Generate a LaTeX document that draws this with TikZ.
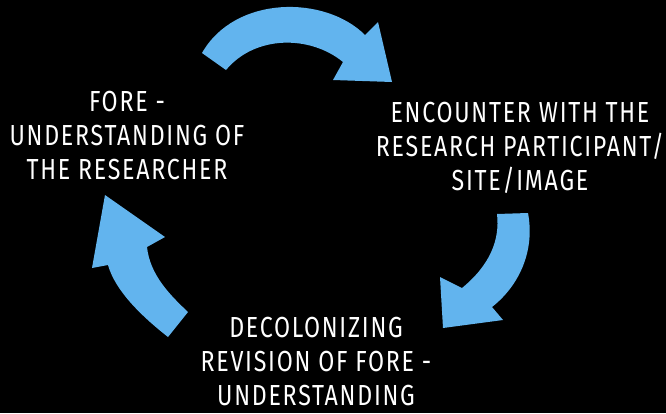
\documentclass[tikz,border=0pt]{standalone}
\usepackage{fontspec}
\setmainfont[FakeStretch=0.80,LetterSpace=6]{Fira Sans}
\definecolor{arrowblue}{RGB}{98,180,238}
\tikzset{
  lbl/.style={text=white, align=center, inner sep=0pt,
    font=\fontsize{29}{34}\selectfont},
  bigarrow/.style={fill=arrowblue, draw=none}
}
\begin{document}
\begin{tikzpicture}[x=1pt,y=-1pt]
\fill[black] (0,0) rectangle (666,413);
\useasboundingbox (0,0) rectangle (666,413);
% top arrow
\path[bigarrow] (202,53) .. controls (235,-5) and (325,-5) .. (365,35)
  -- (378,22) -- (392,82) -- (333,80) -- (343,62)
  .. controls (310,35) and (255,35) .. (226,70) -- cycle;
% right arrow
\path[bigarrow] (497,214) -- (528,213)
  .. controls (535,250) and (520,285) .. (492,307)
  -- (503,320) -- (443,328) -- (440,277) -- (462,288)
  .. controls (490,265) and (500,240) .. (497,214) -- cycle;
% left arrow
\path[bigarrow] (105,195) -- (165,237) -- (147,247)
  .. controls (150,275) and (170,295) .. (188,312)
  -- (168,337)
  .. controls (140,315) and (115,290) .. (108,265)
  -- (92,268) -- cycle;
% labels
\node[lbl] (fore) at (127,136) {FORE -\\UNDERSTANDING OF\\THE RESEARCHER};
\node[lbl] (enc) at (520,148) {ENCOUNTER WITH THE\\RESEARCH PARTICIPANT/\\SITE/IMAGE};
\node[lbl] (dec) at (316,362) {DECOLONIZING\\REVISION OF FORE -\\UNDERSTANDING};
\end{tikzpicture}
\end{document}
